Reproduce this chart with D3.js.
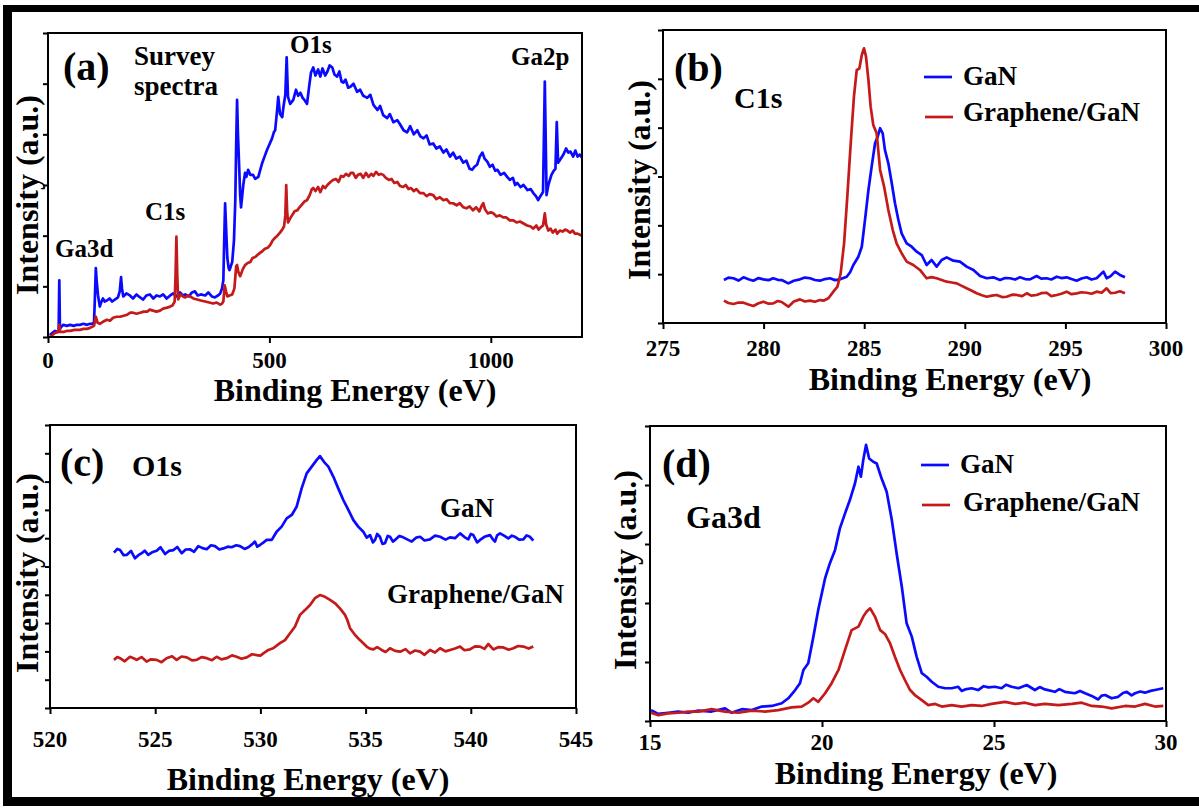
<!DOCTYPE html>
<html>
<head>
<meta charset="utf-8">
<script src="https://cdn.jsdelivr.net/npm/d3@7"></script>
<style>
  body { margin: 0; background: #fff; }
  svg text { font-family: "Liberation Serif", "Times New Roman", serif; font-weight: bold; fill: #000; }
</style>
</head>
<body>
<div id="chart"></div>
<script>
// XPS spectra of GaN and Graphene/GaN, four panels

// Series names and colours
const seriesNames = ["GaN", "Graphene/GaN"];
const colours = ["#0a0aff", "#c41a1a"];

// (a) survey spectra: [binding energy (eV), intensity (a.u.)]
const surveyGaN = [
  [4,2],[10,4],[16,6],[22,5],[24,5],[25.5,56],[27,8],[30,10],[35,12],[42,11],[50,12],[58,11],[65,12],[72,12],
  [80,13],[88,12],[95,13],[100,13],[104,15],[106,40],[108,68],[110,55],[113,41],[117,30],[120,34],[124,38],
  [128,35],[133,36],[139,38],[145,35],[151,37],[158,39],[162,45],[165,59],[167,48],[170,40],[177,43],[185,41],
  [192,38],[200,42],[208,39],[215,37],[222,41],[230,42],[238,38],[245,41],[253,40],[260,42],[268,38],[276,41],
  [283,43],[291,40],[298,44],[305,41],[310,42],[318,40],[325,44],[332,45],[338,41],[345,42],[355,41],[362,44],
  [370,40],[377,39],[384,41],[389,43],[393,48],[396,56],[398,96],[400,132],[402,110],[405,78],[408,68],[410,66],
  [413,70],[416,74],[420,95],[423,135],[425,190],[427,234],[429,200],[432,165],[434,140],[436,128],[441,150],
  [445,162],[448,158],[452,165],[457,160],[463,160],[468,156],[475,158],[480,166],[484,172],[489,178],[495,185],
  [500,190],[506,196],[510,202],[513,204],[517,222],[520,237],[524,220],[529,217],[532,228],[536,239],[539,276],
  [542,237],[547,230],[554,234],[560,244],[565,238],[570,241],[575,236],[579,234],[585,230],[590,248],[594,261],
  [599,266],[604,258],[610,264],[615,257],[620,265],[626,258],[631,262],[636,268],[642,266],[647,259],[653,257],
  [658,262],[663,252],[667,251],[672,254],[678,246],[683,247],[690,250],[698,242],[705,244],[712,238],[721,236],
  [728,239],[735,229],[744,224],[750,228],[757,219],[766,216],[772,220],[780,212],[789,214],[795,210],[803,204],
  [811,202],[818,208],[826,200],[834,204],[841,198],[848,196],[855,199],[862,190],[870,191],[877,186],[885,188],
  [893,182],[900,185],[908,178],[915,182],[922,176],[930,178],[938,172],[945,174],[952,166],[958,165],[963,168],
  [969,170],[975,178],[981,182],[986,176],[992,173],[998,168],[1004,170],[1010,164],[1015,165],[1022,160],
  [1030,162],[1037,158],[1043,155],[1050,157],[1055,150],[1060,152],[1067,148],[1074,150],[1083,145],[1090,146],
  [1096,142],[1102,139],[1107,135],[1112,139],[1118,143],[1122,252],[1126,140],[1130,150],[1137,160],[1142,164],
  [1146,166],[1149,212],[1152,172],[1158,176],[1164,180],[1170,186],[1175,182],[1180,183],[1186,178],[1191,184],
  [1196,178],[1201,180],[1206,177]
];
const surveyGraphene = [
  [4,0],[10,2],[16,4],[22,5],[24,6],[25.5,12],[27,5],[35,5],[42,6],[50,6],[60,7],[72,7],[80,8],[88,8],[95,9],
  [104,11],[108,20],[112,14],[117,13],[124,15],[133,17],[140,16],[147,19],[155,20],[163,20],[171,21],[179,22],
  [186,24],[192,24],[200,23],[208,24],[216,25],[224,25],[230,27],[237,26],[245,25],[253,26],[260,28],[269,29],
  [276,30],[281,31],[286,35],[288,60],[290,99],[292,60],[294,37],[297,40],[300,42],[305,40],[310,39],[316,41],
  [321,40],[328,38],[337,37],[345,36],[355,35],[364,34],[373,33],[381,34],[389,32],[393,33],[396,35],[399,51],
  [402,45],[405,40],[410,41],[416,42],[421,48],[425,70],[427,71],[430,64],[434,60],[440,67],[445,71],[451,73],
  [457,74],[462,78],[468,79],[473,81],[479,83],[485,85],[490,87],[496,88],[502,91],[507,95],[513,98],[518,100],
  [524,103],[529,106],[533,109],[536,120],[538,150],[540,125],[542,113],[547,117],[551,120],[557,124],[563,125],
  [568,128],[574,131],[580,134],[585,135],[591,140],[596,146],[599,147],[604,144],[610,148],[615,143],[621,149],
  [626,147],[631,150],[638,153],[644,155],[650,156],[656,153],[662,159],[667,158],[673,161],[679,159],[684,162],
  [689,162],[695,157],[700,160],[706,161],[712,157],[718,162],[724,158],[730,161],[735,159],[741,163],[747,160],
  [752,161],[757,160],[763,157],[770,155],[776,156],[782,152],[789,153],[795,149],[802,148],[808,150],[814,146],
  [820,147],[826,144],[832,146],[840,142],[848,142],[855,139],[862,141],[870,140],[877,136],[885,138],[893,135],
  [900,136],[908,132],[915,132],[923,130],[930,132],[938,128],[945,127],[952,129],[960,125],[967,128],[974,124],
  [980,130],[983,132],[987,126],[993,122],[1000,123],[1006,122],[1013,119],[1020,120],[1028,118],[1035,118],
  [1043,115],[1051,115],[1058,113],[1066,114],[1074,112],[1082,110],[1090,109],[1096,107],[1103,110],[1108,106],
  [1112,108],[1118,110],[1122,122],[1125,111],[1130,105],[1135,107],[1140,103],[1146,106],[1150,102],[1156,105],
  [1162,104],[1168,106],[1173,105],[1179,103],[1185,105],[1190,102],[1196,102],[1201,101],[1206,100]
];

// (b) C1s
const c1sGaN = [
  [278.03,44.0],[278.25,46.5],[278.5,45.8],[278.75,43.5],[279.0,46.8],[279.25,44.8],[279.49,43.3],[279.75,46.0],
  [279.99,44.7],[280.25,43.9],[280.48,45.8],[280.7,44.2],[280.9,44.0],[281.23,40.6],[281.5,43.3],[281.81,44.7],
  [282.05,46.5],[282.31,45.8],[282.55,44.0],[282.8,43.3],[283.05,45.0],[283.3,45.8],[283.55,43.9],[283.8,44.7],
  [284.13,47.4],[284.3,52.0],[284.46,59.4],[284.71,67.9],[284.88,78.1],[285.04,105.5],[285.21,136.2],
  [285.37,160.1],[285.54,184.0],[285.67,190.8],[285.79,199.4],[285.92,194.2],[286.03,177.2],[286.2,163.5],
  [286.37,143.0],[286.53,122.6],[286.7,105.5],[286.86,91.8],[287.11,81.6],[287.36,78.1],[287.61,73.0],
  [287.86,69.6],[288.1,59.4],[288.35,64.5],[288.6,57.7],[288.85,64.5],[289.1,67.2],[289.43,63.8],[289.76,62.8],
  [290.09,57.7],[290.43,54.3],[290.76,48.1],[291.09,45.8],[291.42,46.8],[291.75,44.0],[292.0,46.0],[292.25,45.8],
  [292.5,44.5],[292.74,46.8],[293.0,45.0],[293.24,44.7],[293.57,48.1],[293.8,45.5],[294.07,45.8],[294.3,44.6],
  [294.57,47.4],[294.8,46.0],[295.06,46.8],[295.3,45.0],[295.56,43.3],[295.8,45.5],[296.06,46.8],[296.3,44.5],
  [296.55,45.8],[296.89,52.6],[297.05,45.8],[297.25,48.0],[297.47,52.6],[297.71,49.2],[297.96,46.8]
];
const c1sGraphene = [
  [278.03,22.9],[278.25,20.5],[278.5,19.5],[278.75,21.0],[279.0,20.8],[279.25,19.0],[279.49,17.4],[279.75,20.2],
  [279.99,21.8],[280.25,19.8],[280.48,20.1],[280.7,22.5],[280.9,21.5],[281.23,16.7],[281.5,22.0],[281.81,24.2],
  [282.05,22.0],[282.31,22.9],[282.55,21.8],[282.8,23.5],[283.0,23.0],[283.22,25.3],[283.47,32.1],[283.67,37.2],
  [283.83,50.8],[284.0,81.6],[284.16,129.3],[284.33,184.0],[284.49,231.7],[284.63,259.1],[284.76,260.5],
  [284.88,274.4],[284.99,281.3],[285.09,272.7],[285.21,248.8],[285.32,221.5],[285.45,202.8],[285.62,194.2],
  [285.79,156.7],[285.99,139.6],[286.2,115.7],[286.42,95.2],[286.61,81.6],[286.86,71.4],[287.11,62.8],
  [287.44,59.4],[287.77,54.3],[288.1,45.8],[288.35,47.0],[288.6,45.8],[288.85,44.0],[289.1,42.3],[289.35,41.5],
  [289.6,40.6],[289.85,38.0],[290.09,35.5],[290.35,33.0],[290.59,30.4],[290.85,28.5],[291.09,26.9],[291.35,28.0],
  [291.58,28.7],[291.85,26.5],[292.08,26.9],[292.35,29.0],[292.58,28.7],[292.85,27.5],[293.08,30.4],[293.3,28.0],
  [293.57,28.7],[293.8,30.5],[294.07,31.0],[294.3,27.5],[294.57,28.7],[294.8,30.0],[295.06,32.1],[295.3,29.5],
  [295.56,30.4],[295.8,31.5],[296.06,31.0],[296.3,30.0],[296.55,32.1],[296.8,31.0],[297.05,35.5],[297.25,30.5],
  [297.47,31.0],[297.71,32.5],[297.96,30.4]
];

// (c) O1s
const o1sGaN = [
  [523.04,54.9],[523.2,56.2],[523.33,55.8],[523.5,54.0],[523.64,54.1],[523.85,55.5],[524.04,52.9],[524.2,54.0],
  [524.36,54.7],[524.5,55.6],[524.67,54.1],[524.85,55.0],[525.07,55.6],[525.25,56.8],[525.47,54.4],[525.65,55.5],
  [525.86,55.8],[526.05,56.9],[526.26,54.7],[526.45,56.0],[526.65,56.1],[526.85,55.2],[527.05,57.2],[527.25,56.5],
  [527.45,56.1],[527.65,57.5],[527.84,57.2],[528.05,56.0],[528.24,56.4],[528.45,57.0],[528.63,56.8],[528.85,57.5],
  [529.03,57.2],[529.25,56.2],[529.43,56.8],[529.6,57.8],[529.74,58.8],[529.85,57.0],[529.98,57.6],[530.15,58.5],
  [530.3,59.4],[530.54,59.4],[530.77,62.3],[531.01,64.1],[531.25,67.0],[531.49,68.2],[531.72,71.1],[531.96,77.6],
  [532.2,82.9],[532.44,85.3],[532.67,87.6],[532.83,89.0],[533.02,87.0],[533.23,85.3],[533.47,81.7],[533.7,77.6],
  [533.94,73.5],[534.18,70.0],[534.42,66.4],[534.65,64.1],[534.89,62.3],[535.05,60.2],[535.21,61.1],[535.35,58.5],
  [535.45,59.4],[535.55,61.5],[535.68,60.5],[535.8,58.0],[535.92,58.2],[536.05,60.8],[536.16,60.5],[536.3,58.8],
  [536.4,59.4],[536.6,60.8],[536.79,60.3],[537.0,59.5],[537.19,58.8],[537.4,60.2],[537.59,60.5],[537.8,59.2],
  [538.06,59.6],[538.3,60.9],[538.54,60.5],[538.8,59.5],[539.01,60.3],[539.25,60.0],[539.49,61.7],[539.7,60.4],
  [539.88,59.6],[540.0,61.5],[540.12,61.1],[540.3,58.5],[540.44,59.4],[540.65,60.5],[540.91,61.1],[541.05,59.6],
  [541.15,58.8],[541.25,61.0],[541.39,61.7],[541.6,60.8],[541.78,59.9],[541.95,60.9],[542.1,60.5],[542.3,59.5],
  [542.5,59.6],[542.65,61.0],[542.81,60.5],[542.97,59.1]
];
const o1sGraphene = [
  [523.04,17.0],[523.2,18.0],[523.33,17.6],[523.55,16.5],[523.8,18.1],[524.0,17.5],[524.12,17.0],[524.35,18.0],
  [524.59,16.4],[524.8,17.2],[525.07,17.0],[525.3,16.2],[525.54,17.6],[525.8,18.3],[526.02,17.0],[526.25,18.2],
  [526.5,17.9],[526.75,16.8],[526.97,17.0],[527.2,18.0],[527.45,17.6],[527.7,16.9],[527.92,18.1],[528.15,17.2],
  [528.4,17.6],[528.65,18.6],[528.87,18.1],[529.1,17.4],[529.35,17.9],[529.6,19.0],[529.82,18.7],[530.0,18.5],
  [530.14,19.3],[530.38,20.5],[530.61,21.1],[530.93,22.9],[531.17,24.0],[531.41,26.4],[531.64,28.7],[531.88,32.9],
  [532.12,34.6],[532.36,36.4],[532.59,38.8],[532.83,39.9],[533.07,39.3],[533.31,38.2],[533.55,37.0],[533.78,35.2],
  [534.02,32.9],[534.13,31.1],[534.26,28.2],[534.5,25.8],[534.73,24.0],[535.05,21.7],[535.2,21.0],[535.37,20.7],
  [535.55,21.5],[535.76,20.5],[535.95,19.8],[536.16,21.1],[536.4,20.2],[536.64,19.9],[536.9,20.8],[537.11,19.3],
  [537.35,20.3],[537.59,19.9],[537.8,18.8],[538.06,20.5],[538.3,19.6],[538.54,21.1],[538.8,20.0],[539.01,20.5],
  [539.25,21.0],[539.49,21.7],[539.7,20.4],[539.96,20.7],[540.2,21.8],[540.44,21.7],[540.65,20.9],[540.83,22.6],
  [541.07,20.7],[541.3,21.5],[541.55,21.4],[541.8,20.6],[542.02,21.1],[542.25,21.9],[542.5,21.7],[542.75,21.0],
  [542.97,21.7]
];

// (d) Ga3d
const ga3dGaN = [
  [15.03,3.7],[15.24,2.4],[15.53,2.8],[15.82,3.2],[16.11,2.8],[16.41,3.5],[16.79,3.2],[17.18,4.3],[17.37,2.8],
  [17.67,4.0],[17.96,3.7],[18.25,4.9],[18.54,5.1],[18.83,6.0],[19.02,7.7],[19.22,10.5],[19.36,12.8],[19.46,17.3],
  [19.6,19.6],[19.75,28.6],[19.89,37.6],[20.09,48.4],[20.23,53.5],[20.38,58.0],[20.52,65.3],[20.67,70.4],
  [20.81,74.9],[20.96,80.6],[21.06,86.2],[21.13,82.8],[21.2,88.5],[21.28,93.6],[21.37,89.0],[21.49,87.9],
  [21.59,87.3],[21.73,82.3],[21.88,77.7],[22.03,68.1],[22.17,56.8],[22.32,45.5],[22.46,33.1],[22.61,28.6],
  [22.75,21.8],[22.9,16.2],[23.04,15.0],[23.19,13.3],[23.38,11.6],[23.58,11.1],[23.77,11.1],[23.96,11.6],
  [24.06,10.2],[24.16,10.7],[24.35,11.1],[24.54,10.5],[24.7,11.8],[24.84,11.4],[25.03,11.6],[25.22,11.1],
  [25.35,12.3],[25.51,11.6],[25.71,11.1],[25.95,12.2],[26.19,10.5],[26.33,11.5],[26.48,10.7],[26.77,9.9],
  [26.9,10.8],[27.06,9.9],[27.35,9.4],[27.5,10.2],[27.65,9.4],[27.84,8.5],[28.03,7.3],[28.13,8.6],[28.23,8.8],
  [28.42,7.7],[28.61,8.2],[28.75,9.5],[28.86,9.9],[29.0,8.7],[29.1,9.4],[29.25,10.0],[29.39,9.6],[29.55,10.2],
  [29.68,10.5],[29.92,11.1]
];
const ga3dGraphene = [
  [15.03,2.8],[15.24,2.0],[15.53,2.6],[15.82,2.8],[16.11,3.2],[16.41,3.2],[16.79,4.0],[17.18,3.2],[17.57,2.8],
  [17.96,3.5],[18.34,3.2],[18.73,3.7],[19.12,4.6],[19.41,4.9],[19.6,6.2],[19.75,7.7],[19.89,6.5],[20.09,9.4],
  [20.28,12.8],[20.48,17.3],[20.67,24.1],[20.86,30.8],[21.06,32.0],[21.2,35.4],[21.3,37.1],[21.4,38.2],
  [21.54,35.4],[21.69,30.8],[21.83,29.5],[21.98,26.3],[22.12,21.8],[22.27,17.3],[22.41,13.9],[22.56,10.5],
  [22.7,8.8],[22.9,7.1],[23.09,5.4],[23.29,5.8],[23.48,4.9],[23.77,5.4],[24.06,4.9],[24.35,5.4],[24.64,5.1],
  [24.93,5.8],[25.32,6.5],[25.61,5.8],[25.9,6.2],[26.19,5.4],[26.48,5.8],[26.87,5.4],[27.26,5.8],[27.55,6.2],
  [27.84,5.1],[28.13,4.9],[28.42,4.3],[28.81,5.1],[29.1,4.9],[29.39,5.8],[29.68,4.9],[29.92,5.1]
];

// Axis ticks
const xTicksA = [0, 500, 1000];
const xTicksB = [275, 280, 285, 290, 295, 300];
const xTicksC = [520, 525, 530, 535, 540, 545];
const xTicksD = [15, 20, 25, 30];

const W = 1199, H = 808;
const svg = d3.select("#chart").append("svg").attr("width", W).attr("height", H);

// Outer frame (top, left, bottom)
svg.append("line").attr("x1", 3).attr("x2", W).attr("y1", 8.5).attr("y2", 8.5)
    .attr("stroke", "#000").attr("stroke-width", 7);
svg.append("line").attr("x1", 7.5).attr("x2", 7.5).attr("y1", 5).attr("y2", 806)
    .attr("stroke", "#000").attr("stroke-width", 9);
svg.append("line").attr("x1", 3).attr("x2", W).attr("y1", 801.5).attr("y2", 801.5)
    .attr("stroke", "#000").attr("stroke-width", 9);

// Draw one panel: box, spectra, ticks, axis titles
function panel(p) {
    let b = p.box;
    let x = d3.scaleLinear().domain(p.xDomain).range([b.l, b.r]);
    let y = d3.scaleLinear().domain(p.yDomain).range([b.b, b.t]);
    let g = svg.append("g");

    // Spectra
    for (let i = 0; i < p.series.length; i++) {
        g.append("path")
            .datum(p.series[i])
            .attr("fill", "none")
            .attr("stroke", colours[i])
            .attr("stroke-width", 2.7)
            .attr("stroke-linejoin", "round")
            .attr("d", d3.line().x(d => x(d[0])).y(d => y(d[1])));
    }

    // X axis ticks
    let xa = g.append("g")
        .attr("transform", "translate(0," + b.b + ")")
        .call(d3.axisBottom(x).tickValues(p.xTicks).tickSize(6).tickFormat(""));
    xa.select(".domain").remove();
    xa.selectAll(".tick line").attr("stroke", "#000").attr("stroke-width", 2);

    // X tick labels, as plain serif text
    g.selectAll(null)
        .data(p.xTicks)
        .enter().append("text")
            .text(d => d)
            .attr("x", d => x(d))
            .attr("y", p.tickY)
            .attr("text-anchor", "middle")
            .attr("font-family", "Liberation Serif")
            .attr("font-weight", "bold")
            .attr("font-size", 23);

    // Y axis ticks, no labels
    let ya = g.append("g")
        .attr("transform", "translate(" + b.l + ",0)")
        .call(d3.axisLeft(y).tickValues(p.yTicks).tickSize(5).tickFormat(""));
    ya.select(".domain").remove();
    ya.selectAll(".tick line").attr("stroke", "#000").attr("stroke-width", 2);

    // Box
    g.append("rect")
        .attr("x", b.l).attr("y", b.t)
        .attr("width", b.r - b.l).attr("height", b.b - b.t)
        .attr("fill", "none").attr("stroke", "#000").attr("stroke-width", 2);

    // Axis titles
    g.append("text").text("Binding Energy (eV)")
        .attr("x", p.xTitle[0]).attr("y", p.xTitle[1])
        .attr("text-anchor", "middle").style("font-size", "32px");
    g.append("text").text("Intensity (a.u.)")
        .attr("transform", "translate(" + p.yTitle[0] + "," + p.yTitle[1] + ") rotate(-90)")
        .attr("text-anchor", "middle").style("font-size", "32px");

    // Panel letter
    g.append("text").text(p.letter)
        .attr("x", p.letterPos[0]).attr("y", p.letterPos[1])
        .style("font-size", "40px");

    // Annotations
    for (let a of p.notes) {
        g.append("text").text(a.t)
            .attr("x", a.x).attr("y", a.y)
            .style("font-size", a.s + "px");
    }

    // Legend
    if (p.legend) {
        for (let i = 0; i < seriesNames.length; i++) {
            let lg = p.legend[i];
            g.append("line")
                .attr("x1", lg.x).attr("x2", lg.x + 28)
                .attr("y1", lg.ly).attr("y2", lg.ly)
                .attr("stroke", colours[i]).attr("stroke-width", 2.7);
            g.append("text").text(seriesNames[i])
                .attr("x", lg.tx).attr("y", lg.ty)
                .style("font-size", "27px");
        }
    }
}

// (a) Survey
panel({
    box: { l: 48, r: 582, t: 33, b: 337 },
    xDomain: [0, 1206], yDomain: [0, 300],
    xTicks: xTicksA, yTicks: d3.range(0, 301, 50),
    series: [surveyGaN, surveyGraphene],
    tickY: 368, xTitle: [355, 401], yTitle: [38, 195],
    letter: "(a)", letterPos: [63, 80],
    notes: [
        { t: "Survey", x: 134, y: 65, s: 27 },
        { t: "spectra", x: 134, y: 95, s: 27 },
        { t: "O1s", x: 290, y: 53, s: 25 },
        { t: "Ga2p", x: 511, y: 65, s: 25 },
        { t: "C1s", x: 145, y: 220, s: 25 },
        { t: "Ga3d", x: 55, y: 257, s: 25 }
    ]
});

// (b) C1s
panel({
    box: { l: 663, r: 1166, t: 30, b: 323 },
    xDomain: [275, 300], yDomain: [0, 300],
    xTicks: xTicksB, yTicks: d3.range(0, 301, 50),
    series: [c1sGaN, c1sGraphene],
    tickY: 356, xTitle: [950, 390], yTitle: [650, 180],
    letter: "(b)", letterPos: [674, 81],
    notes: [{ t: "C1s", x: 734, y: 108, s: 30 }],
    legend: [
        { x: 924, ly: 77, tx: 963, ty: 85 },
        { x: 925, ly: 117, tx: 963, ty: 121 }
    ]
});

// (c) O1s
panel({
    box: { l: 50, r: 576, t: 425, b: 708 },
    xDomain: [520, 545], yDomain: [0, 100],
    xTicks: xTicksC, yTicks: d3.range(0, 101, 10),
    series: [o1sGaN, o1sGraphene],
    tickY: 747, xTitle: [308, 790], yTitle: [38, 573],
    letter: "(c)", letterPos: [60, 476],
    notes: [
        { t: "O1s", x: 132, y: 476, s: 30 },
        { t: "GaN", x: 440, y: 517, s: 27 },
        { t: "Graphene/GaN", x: 387, y: 603, s: 27 }
    ]
});

// (d) Ga3d
panel({
    box: { l: 650, r: 1166, t: 426, b: 721 },
    xDomain: [15, 30], yDomain: [0, 100],
    xTicks: xTicksD, yTicks: d3.range(0, 101, 20),
    series: [ga3dGaN, ga3dGraphene],
    tickY: 750, xTitle: [916, 784], yTitle: [636, 570],
    letter: "(d)", letterPos: [662, 477],
    notes: [{ t: "Ga3d", x: 686, y: 528, s: 32 }],
    legend: [
        { x: 921, ly: 465, tx: 960, ty: 473 },
        { x: 922, ly: 505, tx: 963, ty: 511 }
    ]
});
</script>
</body>
</html>
